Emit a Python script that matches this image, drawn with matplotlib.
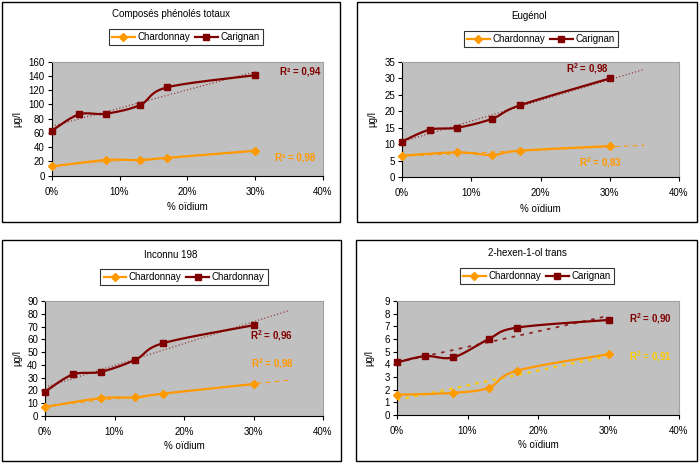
import numpy as np
import matplotlib
matplotlib.use("Agg")
import matplotlib.pyplot as plt
from matplotlib.patches import Rectangle
from matplotlib.lines import Line2D

plt.rcParams['font.family'] = ['Liberation Sans', 'DejaVu Sans']
plt.rcParams['mathtext.fontset'] = 'custom'
plt.rcParams['mathtext.rm'] = 'Liberation Sans'
plt.rcParams['mathtext.bf'] = 'Liberation Sans:bold'

# ---------------- data ----------------
titles = ["Composés phénolés totaux", "Eugénol", "Inconnu 198", "2-hexen-1-ol trans"]
legend_names = [["Chardonnay", "Carignan"], ["Chardonnay", "Carignan"],
                ["Chardonnay", "Chardonnay"], ["Chardonnay", "Carignan"]]
x_chard = [0, 8, 13, 17, 30]
x_carig = [0, 4, 8, 13, 17, 30]
chard_vals = [
    [13, 22, 22, 25, 35],
    [6.5, 7.5, 6.7, 8.0, 9.4],
    [7, 14, 14.5, 17.5, 25],
    [1.6, 1.75, 2.15, 3.5, 4.8],
]
carig_vals = [
    [63, 86, 87, 99, 124, 141],
    [10.8, 14.4, 15.0, 17.7, 21.8, 30.0],
    [19, 32.5, 34.5, 44, 57, 71],
    [4.15, 4.65, 4.55, 6.0, 6.9, 7.5],
]
r2_chard = ["0,98", "0,83", "0,98", "0,91"]
r2_carig = ["0,94", "0,98", "0,96", "0,90"]
y_max = [160, 35, 90, 9]
y_step = [20, 5, 10, 1]
x_ticks = [0, 10, 20, 30, 40]
x_ticklabels = ["0%", "10%", "20%", "30%", "40%"]
trend_end = [30, 35, 35, 30]

ORANGE = "#FF9900"
DARK = "#800000"
YELLOW = "#FFCC00"
GRAY = "#C0C0C0"

W, H = 699, 466
fig = plt.figure(figsize=(W / 100, H / 100), dpi=100)

def fx(px):
    return px / W

def fy(py):
    return 1 - py / H

# panel layout in pixels
panels = [(2, 2, 340, 222), (357, 2, 697, 222), (2, 240, 341, 461), (356, 240, 697, 461)]
plots = [(51.7, 61.7, 323, 175.7), (402, 62, 679, 177), (45, 301, 323, 416), (397, 301, 679, 415)]
title_pos = [(171, 14), (529, 16), (171, 255), (527, 253)]
legend_pos = [(186, 37), (541, 39), (184, 277), (537, 276)]
xlabel_y = [207, 209, 446, 445]
ylabel_x = [17, 372, 17, 369]
r2_carig_pos = [(320, 71, 'right'), (587, 69, 'center'), (272, 336, 'center'), (650, 319, 'center')]
r2_chard_pos = [(315, 158, 'right'), (601, 163, 'center'), (272, 364, 'center'), (651, 357, 'center')]
chard_trend_color = [ORANGE, ORANGE, ORANGE, YELLOW]
r2_chard_color = [ORANGE, ORANGE, ORANGE, YELLOW]
carig_trend_style = [(0, (1, 2)), (0, (1, 2)), (0, (1, 2)), (0, (2, 3))]
carig_trend_lw = [0.8, 0.8, 0.8, 1.3]
chard_trend_style = [(0, (1, 2)), (0, (4, 4)), (0, (4, 4)), (0, (1.5, 2.5))]
chard_trend_lw = [0.8, 0.8, 0.8, 1.6]


def smooth(xs, ys, n=30):
    # Catmull-Rom style smoothing like spreadsheet "smoothed line"
    xs = np.asarray(xs, float)
    ys = np.asarray(ys, float)
    px = np.concatenate([[xs[0]], xs, [xs[-1]]])
    py = np.concatenate([[ys[0]], ys, [ys[-1]]])
    outx, outy = [], []
    for i in range(1, len(px) - 2):
        p0 = np.array([px[i - 1], py[i - 1]])
        p1 = np.array([px[i], py[i]])
        p2 = np.array([px[i + 1], py[i + 1]])
        p3 = np.array([px[i + 2], py[i + 2]])
        c1 = p1 + (p2 - p0) / 6
        c2 = p2 - (p3 - p1) / 6
        t = np.linspace(0, 1, n)[:, None]
        pts = ((1 - t) ** 3) * p1 + 3 * ((1 - t) ** 2) * t * c1 + 3 * (1 - t) * t ** 2 * c2 + t ** 3 * p2
        outx.extend(pts[:, 0])
        outy.extend(pts[:, 1])
    return np.array(outx), np.array(outy)


for k in range(4):
    x0, y0, x1, y1 = panels[k]
    fig.patches.append(Rectangle((fx(x0), fy(y1)), fx(x1 - x0), (y1 - y0) / H,
                                 transform=fig.transFigure, fill=False,
                                 edgecolor="black", linewidth=1.0))
    a0, b0, a1, b1 = plots[k]
    ax = fig.add_axes([fx(a0), fy(b1), fx(a1 - a0), (b1 - b0) / H])
    ax.set_facecolor(GRAY)
    ax.set_xlim(0, 40)
    ax.set_ylim(0, y_max[k])
    ax.set_xticks(x_ticks)
    ax.set_xticklabels(x_ticklabels)
    ax.set_yticks(np.arange(0, y_max[k] + y_step[k] / 2, y_step[k]))
    ax.tick_params(labelsize=7, length=3, width=0.8, direction='out', pad=2, colors='black')
    ax.tick_params(axis='x', pad=5)
    for s in ['top', 'right']:
        ax.spines[s].set_color("#A0A0A0")
        ax.spines[s].set_linewidth(0.8)
    for s in ['left', 'bottom']:
        ax.spines[s].set_color("black")
        ax.spines[s].set_linewidth(0.8)

    # trendlines
    xe = np.array([0, trend_end[k]])
    cc = np.polyfit(x_carig, carig_vals[k], 1)
    ax.plot(xe, np.polyval(cc, xe), color=DARK, linestyle=carig_trend_style[k],
            linewidth=carig_trend_lw[k], zorder=2, alpha=0.8)
    ch = np.polyfit(x_chard, chard_vals[k], 1)
    ax.plot(xe, np.polyval(ch, xe), color=chard_trend_color[k], linestyle=chard_trend_style[k],
            linewidth=chard_trend_lw[k], zorder=2)

    # series
    sx, sy = smooth(x_chard, chard_vals[k])
    ax.plot(sx, sy, color=ORANGE, linewidth=1.6, zorder=3, clip_on=False)
    ax.plot(x_chard, chard_vals[k], linestyle='none', marker='D', markersize=4.5,
            color=ORANGE, zorder=4, clip_on=False)
    sx, sy = smooth(x_carig, carig_vals[k])
    ax.plot(sx, sy, color=DARK, linewidth=1.6, zorder=3, clip_on=False)
    ax.plot(x_carig, carig_vals[k], linestyle='none', marker='s', markersize=4.5,
            color=DARK, zorder=4, clip_on=False)

    # texts
    tx, ty = title_pos[k]
    fig.text(fx(tx), fy(ty), titles[k], ha='center', va='center', fontsize=7)
    fig.text(fx((a0 + a1) / 2), fy(xlabel_y[k]), "% oïdium", ha='center', va='center', fontsize=7)
    fig.text(fx(ylabel_x[k]), fy((b0 + b1) / 2), "µg/l", ha='center', va='center',
             fontsize=7, rotation=90)
    if k == 0:
        lab_c = "R² = " + r2_carig[k]
        lab_h = "R² = " + r2_chard[k]
    else:
        lab_c = r"R$^{\mathbf{2}}$ = " + r2_carig[k]
        lab_h = r"R$^{\mathbf{2}}$ = " + r2_chard[k]
    px_, py_, ha_ = r2_carig_pos[k]
    fig.text(fx(px_), fy(py_), lab_c, ha=ha_, va='center', fontsize=7,
             fontweight='bold', color=DARK)
    px_, py_, ha_ = r2_chard_pos[k]
    fig.text(fx(px_), fy(py_), lab_h, ha=ha_, va='center', fontsize=7,
             fontweight='bold', color=r2_chard_color[k])

    handles = [Line2D([], [], color=ORANGE, marker='D', markersize=4, linewidth=1.6),
               Line2D([], [], color=DARK, marker='s', markersize=4, linewidth=1.6)]
    lx, ly = legend_pos[k]
    leg = fig.legend(handles, legend_names[k], loc='center', ncol=2,
                     bbox_to_anchor=(fx(lx), fy(ly)), bbox_transform=fig.transFigure,
                     fontsize=7, frameon=True, fancybox=False, handlelength=2.3,
                     handletextpad=0.3, columnspacing=0.5, borderpad=0.35,
                     borderaxespad=0)
    leg.get_frame().set_edgecolor('black')
    leg.get_frame().set_linewidth(0.8)

fig.savefig("out.png", dpi=100)
